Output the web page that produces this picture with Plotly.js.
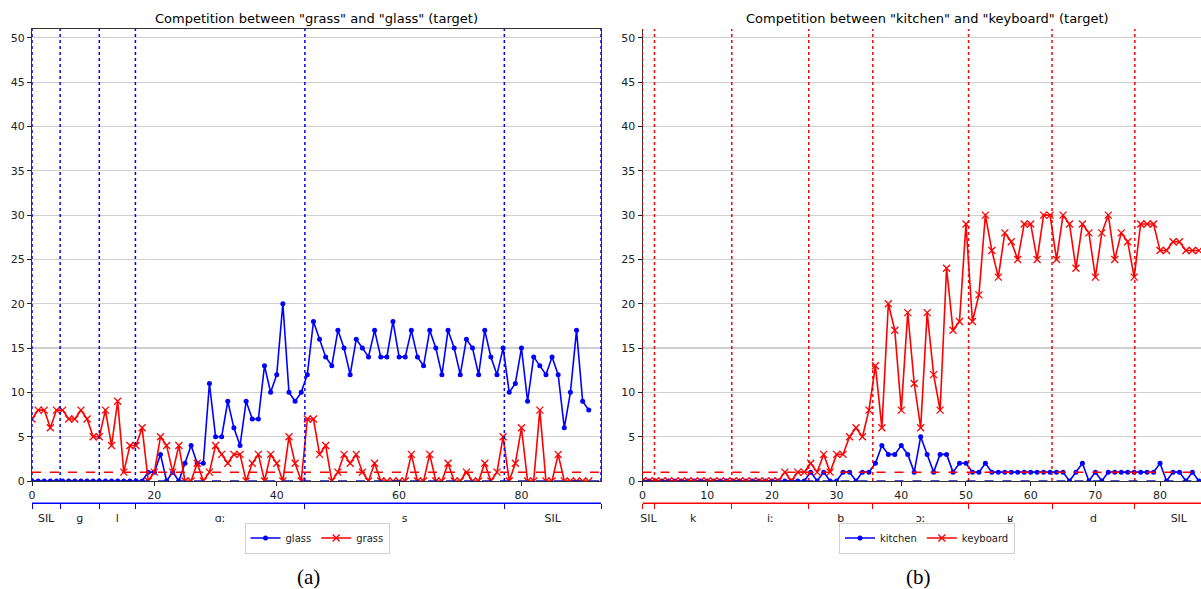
<!DOCTYPE html>
<html>
<head>
<meta charset="utf-8">
<script src="https://cdn.plot.ly/plotly-3.0.1.min.js"></script>
<style>html,body{margin:0;padding:0;background:#fff;}#chart{width:1201px;height:589px;}</style>
</head>
<body>
<div id="chart"></div>
<script>
// ---- data: left chart (target "glass") ----
const framesA = Array.from({length: 92}, (_, i) => i);
const glassVals = [0,0,0,0,0,0,0,0,0,0,0,0,0,0,0,0,0,0,0,1,1,3,0,1,0,2,4,2,2,11,5,5,9,6,4,9,7,7,13,10,12,20,10,9,10,12,18,16,14,13,17,15,12,16,15,14,17,14,14,18,14,14,17,14,13,17,15,12,17,15,12,16,15,12,17,14,12,15,10,11,15,9,14,13,12,14,12,6,10,17,9,8];
const grassVals = [7,8,8,6,8,8,7,7,8,7,5,5,8,4,9,1,4,4,6,0,1,5,4,1,4,0,0,2,0,1,4,3,2,3,3,0,2,3,0,3,2,0,5,2,0,7,7,3,4,0,1,3,2,3,1,0,2,0,0,0,0,0,3,0,0,3,0,0,2,0,0,1,0,0,2,0,1,5,0,2,6,0,0,8,0,0,3,0,0,0,0,0];
const phonesA = ['SIL','ɡ','l','ɑː','s','SIL'];
const boundsA = [0,4.6,11.0,16.9,44.6,77.2,93];
const xMaxA = 93;

// ---- data: right chart (target "keyboard") ----
const framesB = Array.from({length: 87}, (_, i) => i);
const kitchenVals = [0,0,0,0,0,0,0,0,0,0,0,0,0,0,0,0,0,0,0,0,0,0,0,0,0,0,1,0,1,0,0,1,1,0,1,1,2,4,3,3,4,3,1,5,3,1,3,3,1,2,2,1,1,2,1,1,1,1,1,1,1,1,1,1,1,1,0,1,2,0,1,0,1,1,1,1,1,1,1,1,2,0,1,1,0,1,0];
const keyboardVals = [0,0,0,0,0,0,0,0,0,0,0,0,0,0,0,0,0,0,0,0,0,0,1,0,1,1,2,1,3,1,3,3,5,6,5,8,13,6,20,17,8,19,11,6,19,12,8,24,17,18,29,18,21,30,26,23,28,27,25,29,29,25,30,30,25,30,29,24,29,28,23,28,30,25,28,27,23,29,29,29,26,26,27,27,26,26,26];
const phonesB = ['SIL','k','iː','b','ɔː','ʁ','d','SIL'];
const boundsB = [0,1.85,13.8,25.7,35.6,50.4,63.3,76.1,89.7];
const xMaxB = 86.33;

const thresholdRed = 1;
const thresholdBlue = 0;
const yTicks = [0,5,10,15,20,25,30,35,40,45,50];
const xTicksA = [0,20,40,60,80];
const xTicksB = [0,10,20,30,40,50,60,70,80];

const W = 1201, H = 589;
const px = v => v / W;
const py = v => (H - v) / H;

function mids(b){ const m=[]; for(let i=0;i<b.length-1;i++) m.push((b[i]+b[i+1])/2); return m; }

const FONT = 'DejaVu Sans, Arial, sans-serif';

const blueLine = {color:'blue', width:1.6};
const redLine = {color:'red', width:1.6};
const blueMarker = {symbol:'circle', size:5, color:'blue'};
const redMarker = {symbol:'x-thin', size:7, color:'red', line:{color:'red', width:1.3}};

const traces = [
  {x: framesA, y: glassVals, name:'glass', mode:'lines+markers', line: blueLine, marker: blueMarker, xaxis:'x', yaxis:'y', legend:'legend'},
  {x: framesA, y: grassVals, name:'grass', mode:'lines+markers', line: redLine, marker: redMarker, xaxis:'x', yaxis:'y', legend:'legend'},
  {x: framesB, y: kitchenVals, name:'kitchen', mode:'lines+markers', line: blueLine, marker: blueMarker, xaxis:'x2', yaxis:'y2', legend:'legend2'},
  {x: framesB, y: keyboardVals, name:'keyboard', mode:'lines+markers', line: redLine, marker: redMarker, xaxis:'x2', yaxis:'y2', legend:'legend2'},
  {x: [], y: [], xaxis:'x3', yaxis:'y', showlegend:false, hoverinfo:'skip'},
  {x: [], y: [], xaxis:'x4', yaxis:'y2', showlegend:false, hoverinfo:'skip'}
];

const domA = [px(32), px(601)];
const domB = [px(642.5), 1];
const domY = [py(481), py(29)];
const phoneLineY = py(503);

function mainX(dom, range, ticks, anchor, mirror){
  return {domain: dom, range: range, anchor: anchor, tickmode:'array', tickvals: ticks,
    ticks:'outside', ticklen:4, tickcolor:'#222', tickfont:{family:FONT, size:11, color:'#222'},
    showline:true, linecolor:'#333', linewidth:1, mirror: mirror, showgrid:false, zeroline:false, fixedrange:true};
}
function mainY(anchor, mirror){
  return {domain: domY, range:[0,51], anchor: anchor, tickmode:'array', tickvals: yTicks,
    ticks:'outside', ticklen:4, tickcolor:'#222', tickfont:{family:FONT, size:11, color:'#222'},
    showline:true, linecolor:'#333', linewidth:1, mirror: mirror,
    showgrid:true, gridcolor:'#cfcfcf', gridwidth:1.2, zeroline:false, fixedrange:true};
}
function phoneX(dom, range, bounds, labels, color, overlay){
  return {domain: dom, range: range, overlaying: overlay, anchor:'free', position: phoneLineY,
    side:'bottom', tickmode:'array', tickvals: mids(bounds), ticktext: labels,
    ticks:'outside', ticklen:5, tickcolor:'rgba(0,0,0,0)', tickfont:{family:FONT, size:11, color:'#222'},
    minor:{tickmode:'array', tickvals: bounds, ticks:'outside', ticklen:5, tickwidth:1, tickcolor: color, showgrid:false},
    showline:true, linecolor: color, linewidth:1, showgrid:false, zeroline:false, fixedrange:true};
}

const shapes = [];
function addGuides(xref, yref, bounds, xmax, color){
  bounds.filter(b => b <= xmax + 0.01).forEach(b => {
    shapes.push({type:'line', xref: xref, yref: yref + ' domain', x0:b, x1:b, y0:0, y1:1,
      line:{color: color, width:1.5, dash:'dot'}});
  });
  shapes.push({type:'line', xref: xref + ' domain', yref: yref, x0:0, x1:1, y0:thresholdRed, y1:thresholdRed,
    line:{color:'red', width:1.5, dash:'dash'}});
  shapes.push({type:'line', xref: xref + ' domain', yref: yref, x0:0, x1:1, y0:thresholdBlue, y1:thresholdBlue,
    line:{color:'#1010c0', width:1.5, dash:'dash'}});
  // phoneme segment axis line
  shapes.push({type:'line', xref: xref + ' domain', yref:'paper', x0:0, x1:1, y0:phoneLineY, y1:phoneLineY,
    line:{color: color, width:1}});
}
addGuides('x', 'y', boundsA, xMaxA, 'blue');
addGuides('x2', 'y2', boundsB, xMaxB, 'red');

const legendBase = {orientation:'h', xanchor:'center', yanchor:'middle', y: py(538),
  bordercolor:'#d0d0d0', borderwidth:1, bgcolor:'#fff', font:{family:FONT, size:10, color:'#222'},
  itemwidth:30, tracegroupgap:0};

const layout = {
  width: W, height: H,
  margin:{l:0, r:0, t:0, b:0, pad:0},
  paper_bgcolor:'#fff', plot_bgcolor:'#fff',
  showlegend:true,
  xaxis: mainX(domA, [0, xMaxA], xTicksA, 'y', true),
  yaxis: mainY('x', true),
  xaxis2: mainX(domB, [0, xMaxB], xTicksB, 'y2', false),
  yaxis2: mainY('x2', false),
  xaxis3: phoneX(domA, [0, xMaxA], boundsA, phonesA, 'blue', 'x'),
  xaxis4: phoneX(domB, [0, xMaxB], boundsB, phonesB, 'red', 'x2'),
  legend: Object.assign({}, legendBase, {x: px(317)}),
  legend2: Object.assign({}, legendBase, {x: px(927)}),
  shapes: shapes,
  annotations: [
    {text:'Competition between "grass" and "glass" (target)', xref:'paper', yref:'paper', x: px(316.5), y: py(19),
     xanchor:'center', yanchor:'middle', showarrow:false, font:{family:FONT, size:13, color:'#000'}},
    {text:'Competition between "kitchen" and "keyboard" (target)', xref:'paper', yref:'paper', x: px(927), y: py(19),
     xanchor:'center', yanchor:'middle', showarrow:false, font:{family:FONT, size:13, color:'#000'}},
    {text:'(a)', xref:'paper', yref:'paper', x: px(308), y: py(577), xanchor:'center', yanchor:'middle', showarrow:false,
     font:{family:'Liberation Serif, Times New Roman, serif', size:21, color:'#000'}},
    {text:'(b)', xref:'paper', yref:'paper', x: px(918), y: py(577), xanchor:'center', yanchor:'middle', showarrow:false,
     font:{family:'Liberation Serif, Times New Roman, serif', size:21, color:'#000'}}
  ]
};

Plotly.newPlot('chart', traces, layout, {displayModeBar:false, staticPlot:true});
</script>
</body>
</html>
